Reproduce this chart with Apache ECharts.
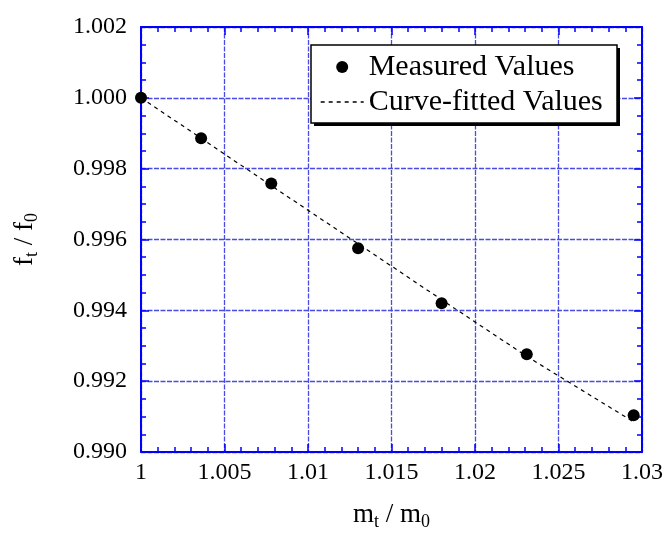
<!DOCTYPE html>
<html>
<head>
<meta charset="utf-8">
<script src="https://cdn.jsdelivr.net/npm/echarts@6/dist/echarts.min.js"></script>
<style>
  html, body { margin: 0; padding: 0; background: #fff; }
  #chart { width: 664px; height: 533px; }
</style>
</head>
<body>
<div id="chart"></div>
<script>
// mass ratio m_t / m_0
var massRatio = [1.0000, 1.0036, 1.0078, 1.0130, 1.0180, 1.0231, 1.0295];
// measured frequency ratio f_t / f_0
var measured = [1.0000, 0.99886, 0.99758, 0.99575, 0.99420, 0.99276, 0.99104];
// curve-fitted frequency ratio
var fitted = [1.0000, 0.99886, 0.99752, 0.99588, 0.99430, 0.99270, 0.99085];

var xTicks = { min: 1, max: 1.03, step: 0.005 };
var yTicks = { min: 0.99, max: 1.002, step: 0.002 };

var serif = 'Liberation Serif';
var blue = '#0000ff';
var gridBlue = '#4a4ae4';

function pairs(xs, ys) {
    return xs.map(function (x, i) { return [x, ys[i]]; });
}

function frameAxis(extra) {
    var base = {
        type: 'value',
        axisLine: { show: true, onZero: false, lineStyle: { color: blue, width: 2 } },
        axisTick: { show: true, inside: true, length: 8, lineStyle: { color: blue, width: 1.5 } },
        splitLine: { show: false },
        axisLabel: { show: false }
    };
    return Object.assign(base, extra);
}

function minor(n) {
    return { show: true, splitNumber: n, length: 5, lineStyle: { color: blue, width: 1.5 } };
}

var chart = echarts.init(document.getElementById('chart'));

var option = {
    animation: false,
    backgroundColor: '#fff',
    grid: { left: 141, right: 22, top: 27, bottom: 81, outerBoundsMode: 'none', containLabel: false },
    // legend frame with its hard drop shadow
    graphic: [
        { type: 'rect', z: 1, shape: { x: 314, y: 48, width: 306, height: 78 }, style: { fill: '#000' } },
        { type: 'rect', z: 2, shape: { x: 311, y: 45, width: 306, height: 78 },
          style: { fill: '#fff', stroke: '#000', lineWidth: 1.5 } }
    ],
    xAxis: [
        frameAxis({
            position: 'bottom',
            min: xTicks.min, max: xTicks.max, interval: xTicks.step,
            minorTick: minor(5),
            splitLine: { show: true, lineStyle: { color: gridBlue, width: 1.3, type: [5, 1.5] } },
            axisLabel: {
                show: true, margin: 9, color: '#000', fontFamily: serif, fontSize: 24,
                formatter: function (v) { return String(parseFloat(v.toFixed(3))); }
            },
            name: '{m|m}{s|t}{m| / m}{s|0}',
            nameLocation: 'middle',
            nameGap: 46,
            nameTextStyle: {
                rich: {
                    m: { fontFamily: serif, fontSize: 27, color: '#000', lineHeight: 30 },
                    s: { fontFamily: serif, fontSize: 18, color: '#000', padding: [15, 0, 0, 0] }
                }
            }
        }),
        frameAxis({
            position: 'top',
            min: xTicks.min, max: xTicks.max, interval: xTicks.step,
            minorTick: minor(5)
        })
    ],
    yAxis: [
        frameAxis({
            position: 'left',
            min: yTicks.min, max: yTicks.max, interval: yTicks.step,
            minorTick: minor(4),
            splitLine: { show: true, lineStyle: { color: gridBlue, width: 1.3, type: [5, 1.5] } },
            axisLabel: {
                show: true, margin: 14, color: '#000', fontFamily: serif, fontSize: 24,
                formatter: function (v) { return v.toFixed(3); }
            },
            name: '{m|f}{s|t}{m| / f}{s|0}',
            nameLocation: 'middle',
            nameRotate: 90,
            nameGap: 100,
            nameTextStyle: {
                rich: {
                    m: { fontFamily: serif, fontSize: 27, color: '#000', lineHeight: 30 },
                    s: { fontFamily: serif, fontSize: 18, color: '#000', padding: [15, 0, 0, 0] }
                }
            }
        }),
        frameAxis({
            position: 'right',
            min: yTicks.min, max: yTicks.max, interval: yTicks.step,
            minorTick: minor(4)
        })
    ],
    legend: {
        orient: 'vertical',
        left: 311,
        top: 47,
        padding: [5, 12, 8, 9],
        itemGap: 5,
        itemWidth: 43,
        itemHeight: 12,
        z: 10,
        textStyle: { fontFamily: serif, fontSize: 30, color: '#000', lineHeight: 30 },
        data: [
            { name: 'Measured Values', icon: 'circle' },
            { name: 'Curve-fitted Values',
              itemStyle: { color: 'rgba(0,0,0,0)', borderWidth: 0, opacity: 0 },
              lineStyle: { color: '#000', width: 1.4, type: [4, 4], opacity: 1 } }
        ]
    },
    series: [
        {
            name: 'Curve-fitted Values',
            type: 'line',
            data: pairs(massRatio, fitted),
            showSymbol: false,
            symbol: 'none',
            lineStyle: { color: '#000', width: 1.2, type: [4, 4] },
            itemStyle: { color: '#000', opacity: 1 },
            z: 3
        },
        {
            name: 'Measured Values',
            type: 'scatter',
            data: pairs(massRatio, measured),
            symbol: 'circle',
            symbolSize: 12,
            itemStyle: { color: '#000', opacity: 1 },
            z: 4
        }
    ]
};

chart.setOption(option);
</script>
</body>
</html>
